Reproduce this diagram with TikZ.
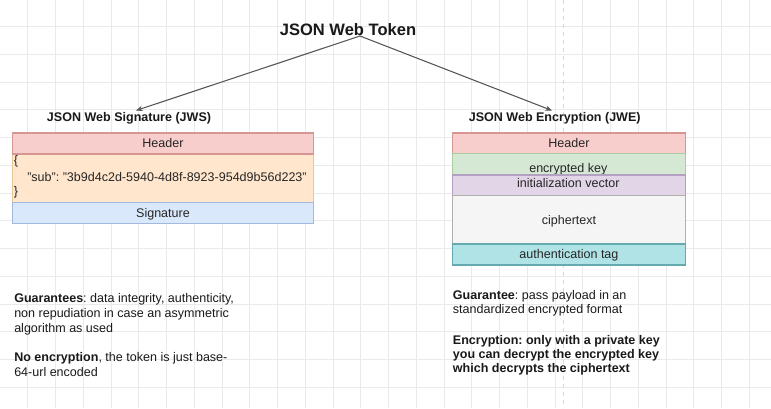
\documentclass[tikz,border=0pt]{standalone}
\usepackage{fontspec}
\setmainfont{Liberation Sans}
\usetikzlibrary{arrows.meta}
\frenchspacing
\definecolor{gridc}{RGB}{234,234,238}
\definecolor{pagec}{RGB}{215,215,220}
\definecolor{txt}{RGB}{38,38,38}
\definecolor{bodyc}{RGB}{25,25,25}
\definecolor{linec}{RGB}{85,85,85}
\definecolor{hdrf}{HTML}{F8CECC}\definecolor{hdrs}{RGB}{214,150,148}
\definecolor{payf}{HTML}{FFE6CC}\definecolor{pays}{RGB}{236,200,150}
\definecolor{sigf}{HTML}{DAE8FC}\definecolor{sigs}{RGB}{160,185,220}
\definecolor{keyf}{HTML}{D5E8D4}\definecolor{keys}{RGB}{170,205,160}
\definecolor{ivf}{HTML}{E1D5E7}\definecolor{ivs}{RGB}{180,160,195}
\definecolor{cipf}{HTML}{F5F5F5}\definecolor{cips}{RGB}{175,175,175}
\definecolor{autf}{HTML}{B0E3E6}\definecolor{auts}{RGB}{100,170,175}
\begin{document}
\begin{tikzpicture}[x=0.75pt,y=-0.75pt,
  box/.style={draw, line width=0.9pt, anchor=north west, inner sep=0pt,
    font=\fontsize{9.4}{11}\selectfont, text=txt, text height=6.7pt, text depth=0pt},
  plain/.style={inner sep=0pt, font=\fontsize{9.4}{11}\selectfont, text=txt,
    text height=6.7pt, text depth=0pt},
  para/.style={inner sep=0pt, anchor=north west, align=left, text=bodyc},
  heading/.style={inner sep=0pt, anchor=base, font=\bfseries\fontsize{9.4}{11}\selectfont, text=bodyc},
  arr/.style={draw=linec, line width=0.8pt, -{Stealth[length=5pt,width=4pt]}}]
\useasboundingbox (0,0) rectangle (771,408);
\fill[white] (0,0) rectangle (771,408);
% grid
\foreach \i in {1,...,27} \draw[gridc, line width=0.75pt] (\i*27.75,0) -- (\i*27.75,408);
\foreach \j in {1,...,14} \draw[gridc, line width=0.75pt] (0,-1.25+\j*27.75) -- (771,-1.25+\j*27.75);
\draw[pagec, dashed, line width=0.5pt] (563,0) -- (563,408);

% title and headings
\node[inner sep=0pt, anchor=base, font=\bfseries\fontsize{12.4}{14}\selectfont, text=bodyc] (title) at (348,35) {JSON Web Token};
\node[heading] (jwsl) at (129,121.7) {JSON Web Signature (JWS)};
\node[heading] (jwel) at (554.7,121.7) {JSON Web Encryption (JWE)};
\coordinate (src) at (360,36);
\coordinate (jwstip) at (136,110.5);
\coordinate (jwetip) at (552,110.5);
\draw[arr] (src) -- (jwstip);
\draw[arr] (src) -- (jwetip);

% JWS
\node[box, fill=payf, draw=pays, minimum width=226pt, minimum height=36.3pt] (pay) at (11.7,153.3) {};
\node[box, fill=hdrf, draw=hdrs, minimum width=226pt, minimum height=15.75pt] (jwsh) at (11.7,132.3) {Header};
\node[box, fill=sigf, draw=sigs, minimum width=226pt, minimum height=15.75pt] (sig) at (11.7,201.7) {Signature};
\node[plain, anchor=west] (ob) at (13.5,160) {\{};
\node[plain, anchor=west] (sub) at (27,177.3) {"sub": "3b9d4c2d-5940-4d8f-8923-954d9b56d223"};
\node[plain, anchor=west] (cb) at (13.5,190.7) {\}};

% JWE
\node[box, fill=hdrf, draw=hdrs, minimum width=175pt, minimum height=15.3pt] (jweh) at (451.7,132.3) {Header};
\node[box, fill=keyf, draw=keys, minimum width=175pt, minimum height=16.2pt] (ekey) at (451.7,152.7) {};
\node[plain] (ekeyt) at (568.3,167.7) {encrypted key};
\node[box, fill=ivf, draw=ivs, minimum width=175pt, minimum height=15.5pt] (iv) at (451.7,174.3) {};
\node[plain] (ivt) at (568.3,183.5) {initialization vector};
\node[box, fill=cipf, draw=cips, minimum width=175pt, minimum height=36.2pt] (cip) at (451.7,195) {ciphertext};
\node[box, fill=autf, draw=auts, minimum width=175pt, minimum height=15.75pt] (aut) at (451.7,243.3) {authentication tag};

% texts
\node[para, font=\fontsize{9.4}{11.25}\selectfont] (g1) at (14,293.4)
  {\textbf{Guarantees}: data integrity, authenticity,\\non repudiation in case an asymmetric\\algorithm as used};
\node[para, font=\fontsize{9.4}{11.25}\selectfont] (n1) at (14,352.4)
  {\textbf{No encryption}, the token is just base-\\64-url encoded};
\node[para, font=\fontsize{9.4}{10.5}\selectfont] (g2) at (452.7,290.4)
  {\textbf{Guarantee}: pass payload in an\\standardized encrypted format};
\node[para, font=\bfseries\fontsize{9.4}{10.5}\selectfont] (e2) at (452.7,335.4)
  {Encryption: only with a private key\\you can decrypt the encrypted key\\which decrypts the ciphertext};
\end{tikzpicture}
\end{document}
